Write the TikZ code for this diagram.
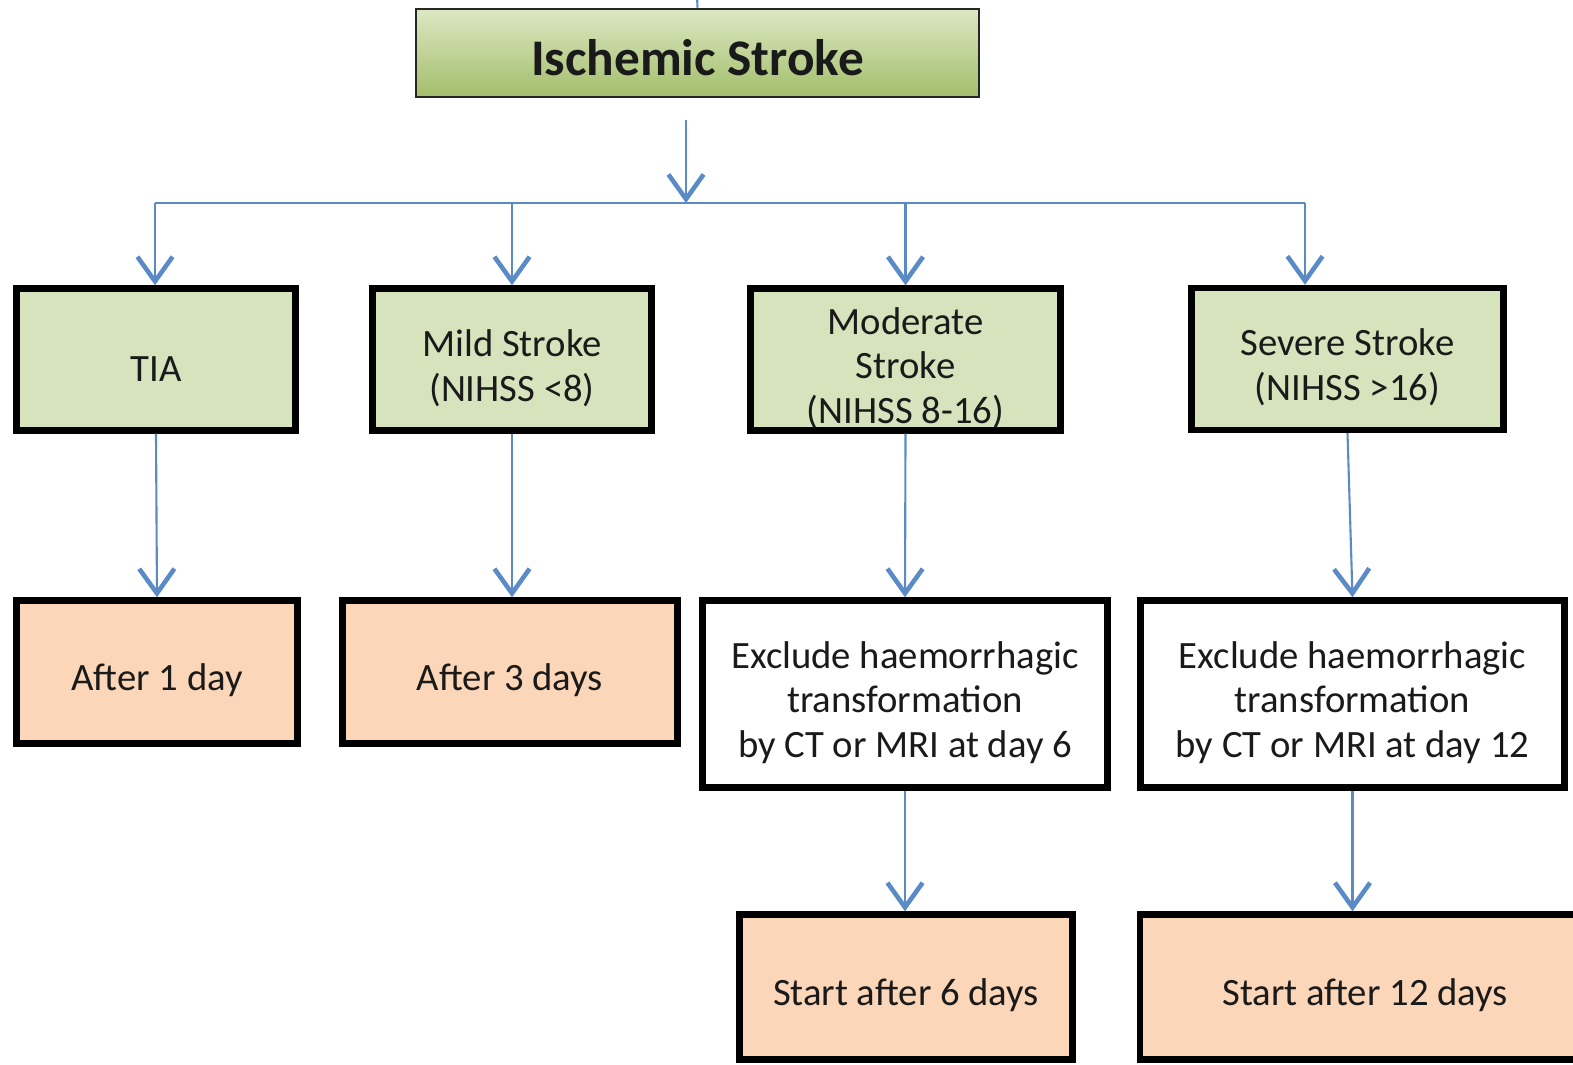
\documentclass[tikz,border=0pt]{standalone}
\usepackage{fontspec}
\setmainfont{Carlito}
\usetikzlibrary{positioning,arrows.meta}

\definecolor{flowblue}{HTML}{5B8BC6}
\definecolor{stagegreen}{HTML}{D6E3BC}
\definecolor{waitpeach}{HTML}{FBD6B8}
\definecolor{titletop}{HTML}{DCE8C4}
\definecolor{titlebot}{HTML}{A3BE6A}
\definecolor{inktext}{HTML}{1A1A1A}

% pushes the text of a box a little down
\newcommand{\lift}{\rule{0pt}{12.5pt}}

\begin{document}
\begin{tikzpicture}[x=0.01cm, y=-0.01cm, font=\fontsize{11}{12.7}\selectfont, text=inktext]
    \tikzstyle{box}=[rectangle, draw=black, line width=1.8pt, align=center, inner sep=2pt]
    \tikzstyle{stage box}=[box, fill=stagegreen, minimum height=1.42cm]
    \tikzstyle{wait box}=[box, fill=waitpeach, minimum height=1.43cm]
    \tikzstyle{check box}=[box, fill=white, minimum height=1.87cm]
    \tikzstyle{title box}=[rectangle, draw=black!85, line width=0.7pt, top color=titletop, bottom color=titlebot, minimum width=5.63cm, minimum height=0.88cm, font=\fontsize{14.6}{17}\selectfont\bfseries]
    \tikzstyle{link}=[draw=flowblue, line width=0.6pt]
    \tikzstyle{edge}=[link, -{Straight Barb[length=7pt, width=10pt, line width=1.3pt]}]

    \useasboundingbox (0,0) rectangle (1573,1065);

    \node[title box] (stroke) at (697.5,53) {\rule{0pt}{13pt}Ischemic Stroke};

    \node[stage box, minimum width=2.79cm] (tia) at (156,359.5) {\lift TIA};
    \node[stage box, minimum width=2.79cm] (mild) at (512,359.5) {\lift Mild Stroke\\(NIHSS <8)};
    \node[stage box, minimum width=3.10cm, inner ysep=0pt] (mod) at (905.5,359.5) {\lift Moderate\\Stroke\\(NIHSS 8-16)};
    \node[stage box, minimum width=3.12cm] (sev) at (1347.5,359) {\lift Severe Stroke\\(NIHSS >16)};

    \node[wait box, minimum width=2.81cm] (day1) at (157,672) {\lift After 1 day};
    \node[wait box, minimum width=3.35cm] (day3) at (510,672) {\lift After 3 days};
    \node[check box, minimum width=4.05cm] (excl6) at (905,694) {\lift Exclude haemorrhagic\\transformation\\by CT or MRI at day 6};
    \node[check box, minimum width=4.24cm] (excl12) at (1352.5,694) {\lift Exclude haemorrhagic\\transformation\\by CT or MRI at day 12};

    \node[wait box, minimum width=3.33cm, minimum height=1.45cm] (start6) at (906,987) {\lift Start after 6 days};
    \node[wait box, minimum width=4.50cm, minimum height=1.45cm] (start12) at (1365,987) {\lift Start after 12 days};

    % feed from above and split into the four stroke grades
    \coordinate (feed) at (697,-5);
    \coordinate (drop) at (686,120);
    \coordinate (fork) at (686,203);
    \coordinate (barL) at (155,203);
    \coordinate (barR) at (1305,203);

    \draw[link] (stroke.north) -- (feed);
    \draw[edge] (drop) -- (fork);
    \draw[link] (barL) -- (barR);
    \draw[edge] (barL) -- (barL |- tia.north);
    \draw[edge] (barL -| mild.north) -- (mild.north);
    \draw[edge] (barL -| mod.north) -- (mod.north);
    \draw[edge] (barR) -- (barR |- sev.north);

    % grade to timing
    \draw[edge] (tia.south) -- (day1.north);
    \draw[edge] (mild.south) -- (mild.south |- day3.north);
    \draw[edge] (mod.south) -- (excl6.north);
    \draw[edge] (sev.south) -- (excl12.north);

    \draw[edge] (excl6.south) -- (excl6.south |- start6.north);
    \draw[edge] (excl12.south) -- (excl12.south |- start12.north);
\end{tikzpicture}
\end{document}
